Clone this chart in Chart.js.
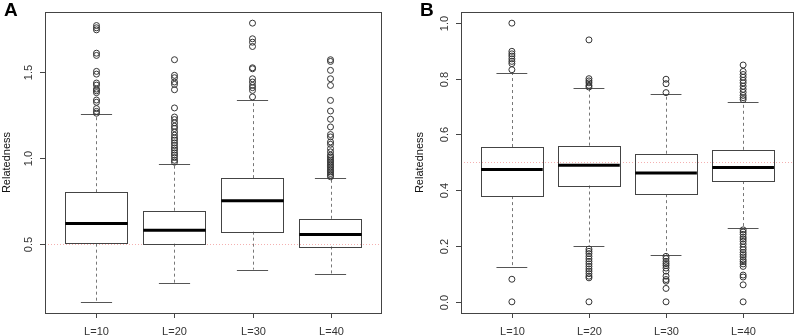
<!DOCTYPE html>
<html lang="en">
<head>
  <meta charset="UTF-8" />
  <title>Relatedness by L</title>
  <script src="https://cdn.jsdelivr.net/npm/chart.js"></script>
  <style>
    html, body { margin: 0; padding: 0; background: #fff; }
    .row { display: flex; width: 799px; height: 336px; }
    .panel { position: relative; height: 336px; }
  </style>
</head>
<body>
  <div class="row">
    <div class="panel" style="width:400px"><canvas id="chartA"></canvas></div>
    <div class="panel" style="width:399px"><canvas id="chartB"></canvas></div>
  </div>

  <script>
    // groups
    const categories = ["L=10", "L=20", "L=30", "L=40"];

    // panel A box stats
    const aWhiskerLow = [0.161, 0.271, 0.349, 0.326];
    const aQ1 = [0.500, 0.500, 0.570, 0.484];
    const aMedian = [0.618, 0.578, 0.750, 0.554];
    const aQ3 = [0.800, 0.692, 0.882, 0.645];
    const aWhiskerHigh = [1.254, 0.967, 1.339, 0.880];
    const aOutliers = [
      [1.771, 1.758, 1.746, 1.610, 1.597, 1.504, 1.488, 1.436, 1.424, 1.401, 1.391, 1.380, 1.337, 1.324, 1.287, 1.271, 1.260],
      [1.572, 1.481, 1.467, 1.442, 1.428, 1.397, 1.291, 1.238, 1.223, 1.204, 1.184, 1.171, 1.151, 1.132, 1.116, 1.103,
       1.087, 1.072, 1.058, 1.045, 1.029, 1.016, 1.002, 0.986, 0.975],
      [1.785, 1.694, 1.674, 1.649, 1.525, 1.519, 1.461, 1.442, 1.422, 1.409, 1.393, 1.355],
      [1.572, 1.562, 1.510, 1.461, 1.422, 1.335, 1.273, 1.225, 1.180, 1.136, 1.122, 1.093, 1.079, 1.054, 1.035, 1.016,
       1.006, 0.996, 0.986, 0.977, 0.967, 0.957, 0.948, 0.938, 0.928, 0.919, 0.909, 0.899, 0.890]
    ];
    const aTicks = [0.5, 1.0, 1.5];

    // panel B box stats
    const bWhiskerLow = [0.124, 0.200, 0.168, 0.263];
    const bQ1 = [0.379, 0.417, 0.386, 0.433];
    const bMedian = [0.474, 0.490, 0.462, 0.482];
    const bQ3 = [0.555, 0.560, 0.531, 0.545];
    const bWhiskerHigh = [0.819, 0.768, 0.745, 0.718];
    const bOutliers = [
      [0.999, 0.898, 0.889, 0.881, 0.871, 0.862, 0.854, 0.832, 0.081, 0.0],
      [0.939, 0.800, 0.792, 0.785, 0.776, 0.770, 0.189, 0.181, 0.173, 0.163, 0.154, 0.145, 0.136, 0.127,
       0.118, 0.110, 0.101, 0.092, 0.086, 0.0],
      [0.798, 0.782, 0.750, 0.163, 0.155, 0.145, 0.137, 0.130, 0.121, 0.110, 0.092, 0.080, 0.074, 0.048, 0.0],
      [0.849, 0.826, 0.815, 0.805, 0.794, 0.785, 0.773, 0.762, 0.751, 0.740, 0.732, 0.725,
       0.258, 0.250, 0.242, 0.232, 0.225, 0.217, 0.207, 0.196, 0.187, 0.177, 0.169, 0.161, 0.151, 0.144,
       0.136, 0.127, 0.096, 0.089, 0.061, 0.0]
    ];
    const bTicks = [0.0, 0.2, 0.4, 0.6, 0.8, 1.0];

    const FONT = '"Liberation Sans", Arial, sans-serif';

    // draws boxes, whiskers, frame and axes in R boxplot style
    const boxPlugin = {
      id: 'rbox',
      beforeDatasetsDraw(chart, args, opts) {
        const ctx = chart.ctx;
        const x = chart.scales.x, y = chart.scales.y;
        const area = chart.chartArea;
        ctx.save();

        // reference line at 0.5
        ctx.strokeStyle = '#f4b0b0';
        ctx.lineWidth = 1;
        ctx.setLineDash([1, 2]);
        ctx.beginPath();
        ctx.moveTo(area.left, Math.round(y.getPixelForValue(0.5)) + 0.5);
        ctx.lineTo(area.right, Math.round(y.getPixelForValue(0.5)) + 0.5);
        ctx.stroke();

        categories.forEach((c, i) => {
          const cx = x.getPixelForValue(i + 1);
          const l = x.getPixelForValue(i + 1 - 0.4), r = x.getPixelForValue(i + 1 + 0.4);
          const cl = x.getPixelForValue(i + 1 - 0.2), cr = x.getPixelForValue(i + 1 + 0.2);
          const q1 = y.getPixelForValue(opts.q1[i]), q3 = y.getPixelForValue(opts.q3[i]);
          const md = y.getPixelForValue(opts.median[i]);
          const wl = y.getPixelForValue(opts.low[i]), wh = y.getPixelForValue(opts.high[i]);

          // dashed whiskers
          ctx.strokeStyle = '#777';
          ctx.lineWidth = 1;
          ctx.setLineDash([3, 3]);
          ctx.beginPath();
          ctx.moveTo(Math.round(cx) + 0.5, q3); ctx.lineTo(Math.round(cx) + 0.5, wh);
          ctx.moveTo(Math.round(cx) + 0.5, q1); ctx.lineTo(Math.round(cx) + 0.5, wl);
          ctx.stroke();
          ctx.setLineDash([]);

          // caps
          ctx.strokeStyle = '#555';
          ctx.beginPath();
          ctx.moveTo(cl, Math.round(wh) + 0.5); ctx.lineTo(cr, Math.round(wh) + 0.5);
          ctx.moveTo(cl, Math.round(wl) + 0.5); ctx.lineTo(cr, Math.round(wl) + 0.5);
          ctx.stroke();

          // box
          ctx.strokeStyle = '#444';
          ctx.strokeRect(Math.round(l) + 0.5, Math.round(q3) + 0.5, Math.round(r - l), Math.round(q1 - q3));

          // median
          ctx.strokeStyle = '#000';
          ctx.lineWidth = 3;
          ctx.beginPath();
          ctx.moveTo(l, md); ctx.lineTo(r, md);
          ctx.stroke();
        });
        ctx.restore();
      },
      afterDraw(chart, args, opts) {
        const ctx = chart.ctx;
        const x = chart.scales.x, y = chart.scales.y;
        const area = chart.chartArea;
        ctx.save();

        // frame
        ctx.strokeStyle = '#444';
        ctx.lineWidth = 1;
        ctx.strokeRect(Math.round(area.left) + 0.5, Math.round(area.top) + 0.5,
          Math.round(area.right - area.left) - 1, Math.round(area.bottom - area.top));

        // y ticks, rotated labels
        ctx.fillStyle = '#333';
        ctx.font = '11px ' + FONT;
        ctx.textAlign = 'center';
        ctx.textBaseline = 'middle';
        opts.ticks.forEach(t => {
          const py = Math.round(y.getPixelForValue(t)) + 0.5;
          ctx.beginPath();
          ctx.moveTo(area.left, py); ctx.lineTo(area.left - 5, py);
          ctx.stroke();
          ctx.save();
          ctx.translate(area.left - 16, py);
          ctx.rotate(-Math.PI / 2);
          ctx.fillText(t.toFixed(1), 0, 0);
          ctx.restore();
        });

        // x ticks and labels
        categories.forEach((c, i) => {
          const px = Math.round(x.getPixelForValue(i + 1)) + 0.5;
          ctx.beginPath();
          ctx.moveTo(px, area.bottom); ctx.lineTo(px, area.bottom + 5);
          ctx.stroke();
          ctx.fillText(c, px, area.bottom + 19);
        });

        // axis title
        ctx.save();
        ctx.translate(area.left - opts.titleOffset, (area.top + area.bottom) / 2);
        ctx.rotate(-Math.PI / 2);
        ctx.fillStyle = '#111';
        ctx.font = '11px ' + FONT;
        ctx.fillText('Relatedness', 0, 0);
        ctx.restore();

        // panel letter
        ctx.fillStyle = '#000';
        ctx.font = 'bold 19px ' + FONT;
        ctx.textAlign = 'left';
        ctx.textBaseline = 'top';
        ctx.fillText(opts.letter, opts.letterX, 1);
        ctx.restore();
      }
    };

    function makeChart(id, stats, outliers, ymin, ymax, pad) {
      const points = [];
      outliers.forEach((list, i) => list.forEach(v => points.push({ x: i + 1, y: v })));

      return new Chart(document.getElementById(id), {
        type: 'scatter',
        data: {
          datasets: [{
            data: points,
            pointStyle: 'circle',
            pointRadius: 3,
            pointBorderWidth: 1,
            borderColor: '#333',
            backgroundColor: 'rgba(0,0,0,0)'
          }]
        },
        options: {
          responsive: true,
          maintainAspectRatio: false,
          animation: false,
          layout: { padding: pad },
          scales: {
            x: { type: 'linear', min: 0.34, max: 4.66, display: false },
            y: { type: 'linear', min: ymin, max: ymax, display: false }
          },
          plugins: {
            legend: { display: false },
            tooltip: { enabled: false },
            rbox: stats
          }
        },
        plugins: [boxPlugin]
      });
    }

    makeChart('chartA', {
      q1: aQ1, q3: aQ3, median: aMedian, low: aWhiskerLow, high: aWhiskerHigh,
      ticks: aTicks, letter: 'A', letterX: 4, titleOffset: 38
    }, aOutliers, 0.096, 1.850, { left: 45, top: 12, right: 18, bottom: 23 });

    makeChart('chartB', {
      q1: bQ1, q3: bQ3, median: bMedian, low: bWhiskerLow, high: bWhiskerHigh,
      ticks: bTicks, letter: 'B', letterX: 20, titleOffset: 41
    }, bOutliers, -0.04, 1.039, { left: 61, top: 12, right: 2, bottom: 23 });
  </script>
</body>
</html>
